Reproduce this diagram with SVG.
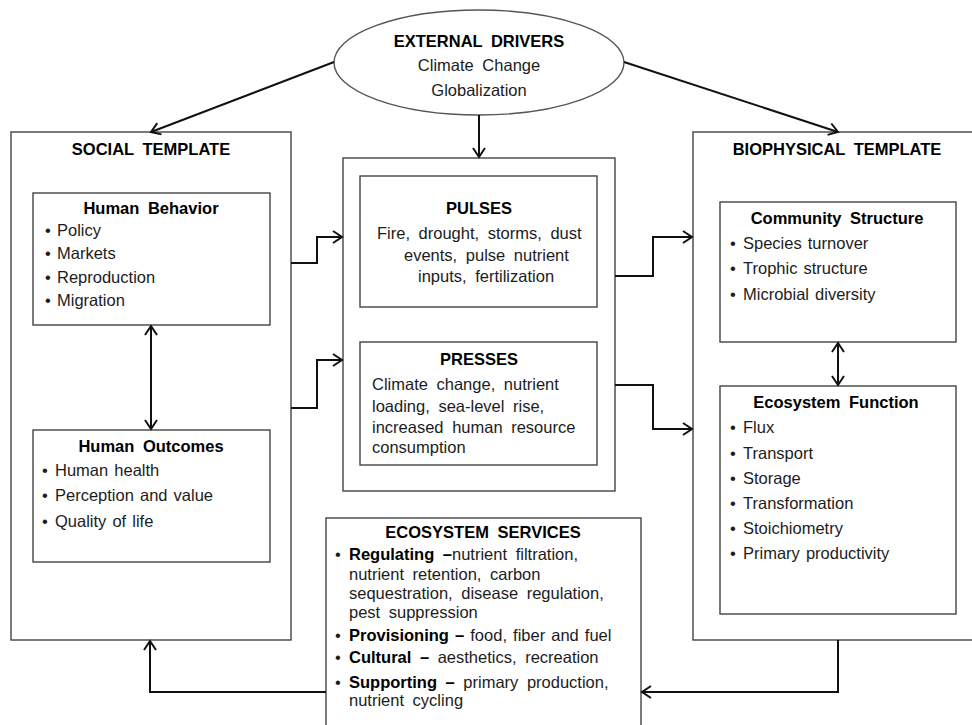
<svg xmlns="http://www.w3.org/2000/svg" width="972" height="725" viewBox="0 0 972 725">
<style>
  text { font-family: "Liberation Sans", Arial, sans-serif; font-size: 16.5px; fill: #1c1c1c; word-spacing: 4px; }
  .t { font-weight: bold; fill: #000; text-anchor: middle; word-spacing: 4px; }
  .b { font-weight: bold; fill: #000; }
  .li { word-spacing: 1.5px; }
  .box { fill: #fff; stroke: #444; stroke-width: 1.4; }
  .con { fill: none; stroke: #111; stroke-width: 2; }
</style>
<defs>
  <marker id="ah" markerUnits="userSpaceOnUse" markerWidth="16" markerHeight="16" viewBox="-12 -8 14 16" refX="0" refY="0" orient="auto-start-reverse">
    <path d="M-9,-6 L0,0 L-9,6" fill="none" stroke="#111" stroke-width="2"/>
  </marker>
</defs>
<rect width="972" height="725" fill="#fff"/>

<g id="social-template">
  <rect class="box" x="11" y="132" width="280" height="508"/>
  <text class="t" x="151" y="155">SOCIAL TEMPLATE</text>
</g>
<g id="human-behavior">
  <rect class="box" x="33" y="193" width="237" height="132"/>
  <text class="t" x="151" y="214">Human Behavior</text>
  <text class="li" x="45" y="236">•<tspan x="57">Policy</tspan></text>
  <text class="li" x="45" y="259">•<tspan x="57">Markets</tspan></text>
  <text class="li" x="45" y="283">•<tspan x="57">Reproduction</tspan></text>
  <text class="li" x="45" y="306">•<tspan x="57">Migration</tspan></text>
</g>
<g id="human-outcomes">
  <rect class="box" x="33" y="430" width="237" height="132"/>
  <text class="t" x="151" y="452">Human Outcomes</text>
  <text class="li" x="42" y="476">•<tspan x="55">Human health</tspan></text>
  <text class="li" x="42" y="501">•<tspan x="55">Perception and value</tspan></text>
  <text class="li" x="42" y="527">•<tspan x="55">Quality of life</tspan></text>
</g>

<g id="external-drivers">
  <ellipse cx="479" cy="62.5" rx="145" ry="52.5" fill="#fff" stroke="#555" stroke-width="1.4"/>
  <text class="t" x="479" y="47">EXTERNAL DRIVERS</text>
  <text x="479" y="71" text-anchor="middle">Climate Change</text>
  <text x="479" y="96" text-anchor="middle">Globalization</text>
</g>

<g id="pulses-presses">
  <rect class="box" x="343" y="158" width="272" height="333"/>
</g>
<g id="pulses">
  <rect class="box" x="360" y="176" width="237" height="131"/>
  <text class="t" x="479" y="214">PULSES</text>
  <text x="377" y="239">Fire, drought, storms, dust</text>
  <text x="404" y="261">events, pulse nutrient</text>
  <text x="418" y="282">inputs, fertilization</text>
</g>
<g id="presses">
  <rect class="box" x="360" y="342" width="237" height="123"/>
  <text class="t" x="479" y="365">PRESSES</text>
  <text x="372" y="390">Climate change, nutrient</text>
  <text x="372" y="412">loading, sea-level rise,</text>
  <text x="372" y="433">increased human resource</text>
  <text x="372" y="453">consumption</text>
</g>

<g id="biophysical-template">
  <rect class="box" x="693" y="132" width="285" height="508"/>
  <text class="t" x="837" y="155">BIOPHYSICAL TEMPLATE</text>
</g>
<g id="community-structure">
  <rect class="box" x="720" y="202" width="236" height="140"/>
  <text class="t" x="837" y="224">Community Structure</text>
  <text class="li" x="730" y="249">•<tspan x="743">Species turnover</tspan></text>
  <text class="li" x="730" y="274">•<tspan x="743">Trophic structure</tspan></text>
  <text class="li" x="730" y="300">•<tspan x="743">Microbial diversity</tspan></text>
</g>
<g id="ecosystem-function">
  <rect class="box" x="720" y="386" width="236" height="228"/>
  <text class="t" x="836" y="408">Ecosystem Function</text>
  <text class="li" x="730" y="433">•<tspan x="743">Flux</tspan></text>
  <text class="li" x="730" y="459">•<tspan x="743">Transport</tspan></text>
  <text class="li" x="730" y="484">•<tspan x="743">Storage</tspan></text>
  <text class="li" x="730" y="509">•<tspan x="743">Transformation</tspan></text>
  <text class="li" x="730" y="534">•<tspan x="743">Stoichiometry</tspan></text>
  <text class="li" x="730" y="559">•<tspan x="743">Primary productivity</tspan></text>
</g>

<g id="ecosystem-services">
  <rect class="box" x="326" y="518" width="315" height="220"/>
  <text class="t" x="483" y="538">ECOSYSTEM SERVICES</text>
  <text x="335" y="560">•<tspan x="349" class="b">Regulating –</tspan>nutrient filtration,</text>
  <text x="349" y="580">nutrient retention, carbon</text>
  <text x="349" y="599">sequestration, disease regulation,</text>
  <text x="349" y="618">pest suppression</text>
  <text class="li" x="335" y="641">•<tspan x="349" class="b">Provisioning – </tspan>food, fiber and fuel</text>
  <text x="335" y="663">•<tspan x="349" class="b">Cultural – </tspan>aesthetics, recreation</text>
  <text x="335" y="688">•<tspan x="349" class="b">Supporting – </tspan>primary production,</text>
  <text x="349" y="706">nutrient cycling</text>
</g>

<g id="connectors">
  <path class="con" d="M334,62 L151,132" marker-end="url(#ah)"/>
  <path class="con" d="M624,62 L838,132" marker-end="url(#ah)"/>
  <path class="con" d="M479,115 L479,157" marker-end="url(#ah)"/>
  <path class="con" d="M151,326 L151,429" marker-start="url(#ah)" marker-end="url(#ah)"/>
  <path class="con" d="M838,343 L838,385" marker-start="url(#ah)" marker-end="url(#ah)"/>
  <path class="con" d="M291,263 H317 V237 H342" marker-end="url(#ah)"/>
  <path class="con" d="M291,408 H317 V360 H342" marker-end="url(#ah)"/>
  <path class="con" d="M615,276 H653 V237 H692" marker-end="url(#ah)"/>
  <path class="con" d="M615,385 H653 V429 H692" marker-end="url(#ah)"/>
  <path class="con" d="M838,640 V692 H642" marker-end="url(#ah)"/>
  <path class="con" d="M326,692 H150 V641" marker-end="url(#ah)"/>
</g>
</svg>
